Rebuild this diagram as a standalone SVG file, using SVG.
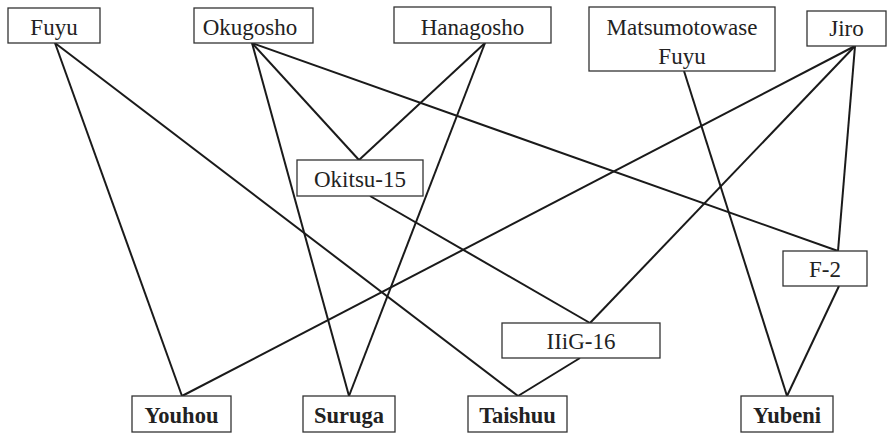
<svg xmlns="http://www.w3.org/2000/svg" width="893" height="434" viewBox="0 0 893 434">
<style>
.box{fill:#fff;stroke:#333;stroke-width:1.3}
.t{font-size:23px;fill:#222;text-anchor:middle}
.b{font-size:22.5px;font-weight:bold;fill:#222;text-anchor:middle}
.c line{stroke:#1a1a1a;stroke-width:2}
</style>
<rect width="893" height="434" fill="#fff"/>
<g class="c" id="connectors">
<line x1="55" y1="43" x2="182" y2="396"/>
<line x1="55" y1="43" x2="518" y2="396"/>
<line x1="252" y1="43" x2="349" y2="396"/>
<line x1="252" y1="43" x2="359" y2="160"/>
<line x1="252" y1="43" x2="838" y2="251"/>
<line x1="485" y1="43" x2="359" y2="160"/>
<line x1="485" y1="43" x2="349" y2="396"/>
<line x1="684" y1="71" x2="787" y2="396"/>
<line x1="855" y1="46" x2="182" y2="396"/>
<line x1="855" y1="46" x2="590" y2="323"/>
<line x1="855" y1="46" x2="838" y2="251"/>
<line x1="370" y1="196" x2="590" y2="323"/>
<line x1="580" y1="358" x2="518" y2="396"/>
<line x1="839" y1="286" x2="787" y2="396"/>
</g>
<g font-family="'Liberation Serif', 'Times New Roman', 'DejaVu Serif', serif">
<g id="fuyu"><rect class="box" x="8" y="8" width="92" height="35"/><text class="t" x="54" y="35">Fuyu</text></g>
<g id="okugosho"><rect class="box" x="194" y="8" width="119" height="35"/><text class="t" x="250" y="35">Okugosho</text></g>
<g id="hanagosho"><rect class="box" x="394" y="7" width="157" height="36"/><text class="t" x="472.5" y="35">Hanagosho</text></g>
<g id="matsumotowase"><rect class="box" x="589" y="7" width="186" height="64"/><text class="t" x="682" y="35">Matsumotowase</text><text class="t" x="682" y="64">Fuyu</text></g>
<g id="jiro"><rect class="box" x="807" y="11" width="79" height="35"/><text class="t" x="846.5" y="36">Jiro</text></g>
<g id="okitsu15"><rect class="box" x="297" y="160" width="126" height="36"/><text class="t" x="360" y="187">Okitsu-15</text></g>
<g id="f2"><rect class="box" x="783" y="251" width="84" height="35"/><text class="t" x="825" y="277">F-2</text></g>
<g id="iiig16"><rect class="box" x="502" y="323" width="158" height="35"/><text class="t" x="581" y="349">IIiG-16</text></g>
<g id="youhou"><rect class="box" x="132" y="396" width="99" height="36"/><text class="b" x="181.5" y="423">Youhou</text></g>
<g id="suruga"><rect class="box" x="303" y="396" width="92" height="36"/><text class="b" x="349" y="423">Suruga</text></g>
<g id="taishuu"><rect class="box" x="468" y="396" width="99" height="36"/><text class="b" x="517.5" y="423">Taishuu</text></g>
<g id="yubeni"><rect class="box" x="741" y="396" width="92" height="36"/><text class="b" x="787" y="423">Yubeni</text></g>
</g>
</svg>
